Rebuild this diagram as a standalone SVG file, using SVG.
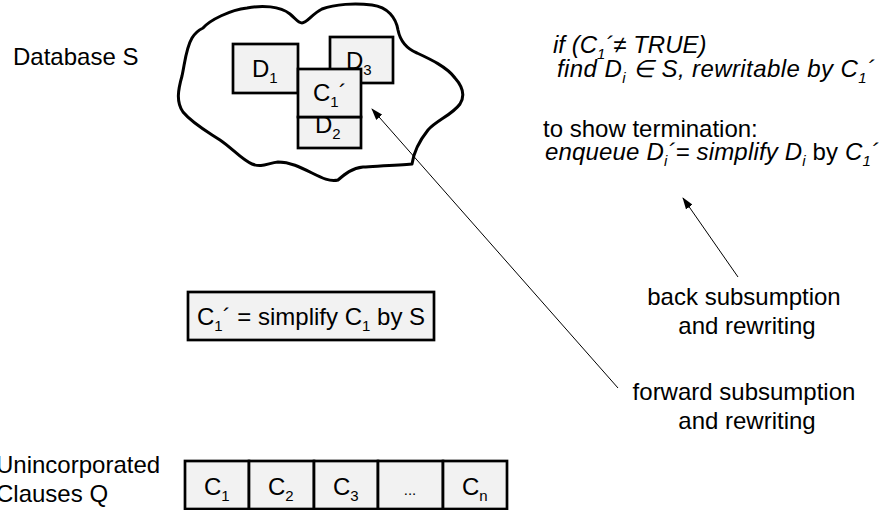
<svg xmlns="http://www.w3.org/2000/svg" width="885" height="510" viewBox="0 0 885 510">
<style>
text{font-family:"Liberation Sans",Arial,sans-serif;font-size:24px;fill:#000}
.it{font-style:italic}
.up{font-style:normal}
.box{fill:#f2f2f2;stroke:#000;stroke-width:2.7}
.cloud{fill:none;stroke:#000;stroke-width:3;stroke-linejoin:round}
.arr{stroke:#000;stroke-width:1;fill:none;marker-end:url(#ah)}
.s{font-size:15px}
.mid{text-anchor:middle}
</style>
<defs>
<marker id="ah" markerWidth="12" markerHeight="8" refX="11" refY="4" orient="auto" markerUnits="userSpaceOnUse">
<path d="M0,0 L12,4 L0,8 Z" fill="#000"/>
</marker>
</defs>
<g id="database-label"><text x="13" y="65">Database S</text></g>
<g id="queue-label"><text x="-4" y="473">Unincorporated</text><text x="-4" y="502">Clauses Q</text></g>
<g id="cloud">
<path class="cloud" d="M203,28 C210,20 230,10 247,8 C262,5 280,6 290,14 C296,19 298,23 302,23 C307,23 312,14 322,9 C335,4 355,3 372,5 C388,7 396,18 398,30 C400,40 405,48 417,53 C430,59 447,67 455,78 C463,87 465,96 460,104 C452,115 437,120 428,130 C420,140 414,150 412,164 C400,165 380,166 363,167 C352,168 345,174 338,180 C330,182 322,178 312,173 C300,167 290,162 278,162 C268,163 262,168 252,164 C242,160 232,148 220,140 C208,132 193,124 183,112 C176,102 178,90 182,76 C185,62 186,48 192,38 C195,33 199,30 203,28 Z"/>
</g>
<g id="D1"><rect class="box" x="233" y="44" width="65" height="49"/><text x="252" y="77">D<tspan class="s" dy="6">1</tspan></text></g>
<g id="D3"><rect class="box" x="330" y="37" width="63" height="46"/><text x="346" y="69">D<tspan class="s" dy="6">3</tspan></text></g>
<g id="D2"><rect class="box" x="298" y="117" width="63" height="31"/><text x="315" y="133">D<tspan class="s" dy="6">2</tspan></text></g>
<g id="C1p"><rect class="box" x="298" y="69" width="63" height="48"/><text x="313" y="101">C<tspan class="s" dy="6">1</tspan><tspan dy="-6">´</tspan></text></g>
<g id="simplify"><rect class="box" x="188" y="292" width="246" height="48"/><text x="197" y="325">C<tspan class="s" dy="6">1</tspan><tspan dy="-6">´ = simplify C</tspan><tspan class="s" dy="6">1</tspan><tspan dy="-6"> by S</tspan></text></g>
<g id="queue">
<rect class="box" x="185" y="461" width="64" height="48"/>
<rect class="box" x="249" y="461" width="65" height="48"/>
<rect class="box" x="314" y="461" width="64" height="48"/>
<rect class="box" x="378" y="461" width="65" height="48"/>
<rect class="box" x="443" y="461" width="64" height="48"/>
<text x="204" y="495">C<tspan class="s" dy="6">1</tspan></text>
<text x="268" y="495">C<tspan class="s" dy="6">2</tspan></text>
<text x="333" y="495">C<tspan class="s" dy="6">3</tspan></text>
<text x="410" y="495" class="mid s">...</text>
<text x="462" y="495">C<tspan class="s" dy="6">n</tspan></text>
</g>
<g id="condition">
<text class="it" x="553" y="53">if (C<tspan class="s" dy="6">1</tspan><tspan dy="-6">´≠ TRUE)</tspan></text>
<text class="it" x="557" y="77" textLength="318" lengthAdjust="spacing">find D<tspan class="s" dy="6">i</tspan><tspan dy="-6"> ∈ S, rewritable by C</tspan><tspan class="s" dy="6">1</tspan><tspan dy="-6">´</tspan></text>
</g>
<g id="termination">
<text x="543" y="137">to show termination:</text>
<text class="it" x="545" y="160" textLength="334" lengthAdjust="spacing">enqueue D<tspan class="s" dy="6">i</tspan><tspan dy="-6">´= simplify D</tspan><tspan class="s" dy="6">i</tspan><tspan class="up" dy="-6"> by </tspan>C<tspan class="s" dy="6">1</tspan><tspan dy="-6">´</tspan></text>
</g>
<g id="back-label"><text class="mid" x="744" y="305">back subsumption</text><text class="mid" x="747" y="334">and rewriting</text></g>
<g id="forward-label"><text class="mid" x="744" y="400">forward subsumption</text><text class="mid" x="747" y="429">and rewriting</text></g>
<g id="connectors">
<line class="arr" x1="738" y1="277" x2="683" y2="198"/>
<line class="arr" x1="618" y1="388" x2="372" y2="109"/>
</g>
</svg>
